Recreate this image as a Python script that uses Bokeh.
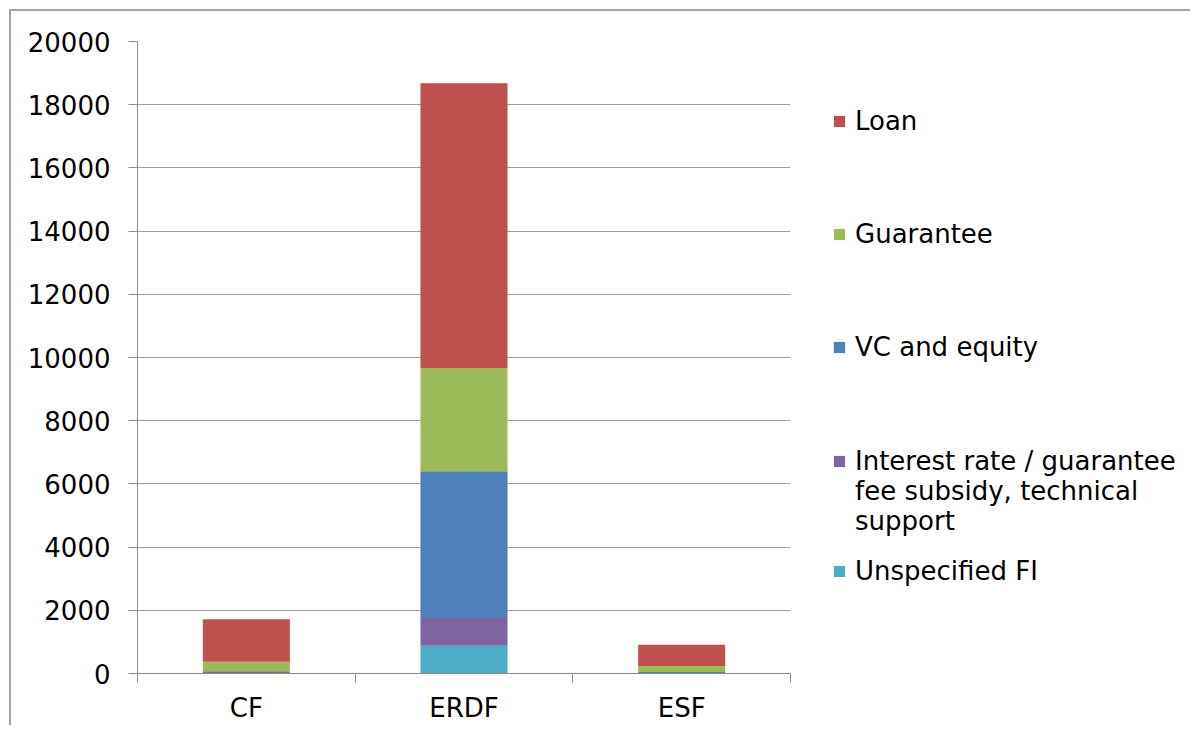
from bokeh.plotting import figure
from bokeh.layouts import row
from bokeh.models import (Range1d, FixedTicker, Legend, LegendItem)
from bokeh.embed import file_html
from bokeh.resources import INLINE

categories = ["CF", "ERDF", "ESF"]
series_names = ["Unspecified FI",
                "Interest rate / guarantee\nfee subsidy, technical\nsupport",
                "VC and equity", "Guarantee", "Loan"]
unspecified = [0, 880, 0]
interest = [70, 880, 0]
vc_equity = [0, 4640, 50]
guarantee = [300, 3260, 190]
loan = [1350, 9020, 670]
y_ticks = list(range(0, 20001, 2000))

colors = ["#4BACC6", "#8064A2", "#4F81BD", "#9BBB59", "#C0504D"]
keys = ["unspecified", "interest", "vc", "guarantee", "loan"]
FONT = "DejaVu Sans"

xpos = [i + 0.5 for i in range(len(categories))]
data = dict(x=xpos, unspecified=unspecified, interest=interest,
            vc=vc_equity, guarantee=guarantee, loan=loan)

p = figure(frame_width=653, frame_height=632, output_backend="svg", toolbar_location=None,
           x_range=Range1d(0, len(categories)), y_range=Range1d(0, 20000),
           min_border_left=126, min_border_top=30, min_border_right=10,
           min_border_bottom=48)
p.outline_line_color = None

rs = p.vbar_stack(keys, x="x", width=0.4, color=colors, source=data, line_color=None)

# x axis
xa = p.xaxis[0]
xa.ticker = FixedTicker(ticks=xpos, minor_ticks=list(range(len(categories) + 1)))
xa.major_label_overrides = {x: c for x, c in zip(xpos, categories)}
xa.major_tick_out = 0
xa.major_tick_in = 0
xa.minor_tick_out = 9
xa.minor_tick_in = 0
xa.minor_tick_line_color = "#8c8c8c"
xa.axis_line_color = "#8c8c8c"
xa.major_label_text_font = FONT
xa.major_label_text_font_size = "26px"
xa.major_label_text_color = "black"
xa.major_label_standoff = 10

ya = p.yaxis[0]
ya.ticker = FixedTicker(ticks=y_ticks, minor_ticks=[])
ya.major_tick_out = 9
ya.major_tick_in = 0
ya.major_tick_line_color = "#8c8c8c"
ya.axis_line_color = "#8c8c8c"
ya.major_label_text_font = FONT
ya.major_label_text_font_size = "26px"
ya.major_label_text_color = "black"
ya.major_label_standoff = 18

p.xgrid.visible = False
p.ygrid.ticker = FixedTicker(ticks=y_ticks)
p.ygrid.grid_line_color = "#a0a0a0"

# legend panel (separate figure to the right)
q = figure(width=390, height=662, output_backend="svg", toolbar_location=None,
           x_axis_location=None, y_axis_location=None,
           min_border_left=0, min_border_right=0, min_border_top=0, min_border_bottom=0)
q.outline_line_color = None
q.xgrid.visible = False
q.ygrid.visible = False
swatches = q.vbar_stack(keys, x="x", width=0.4, color=colors, source=data, line_color=None)
for r in swatches:
    r.visible = False

labels = list(series_names)
labels[1] = "\n\n" + labels[1]  # keep swatch level with the first text line
legend_y = {4: 485, 3: 372, 2: 259, 1: 85, 0: 35}
for i in [4, 3, 2, 1, 0]:
    lg = Legend(items=[LegendItem(label=labels[i], renderers=[swatches[i]])],
                location=(32, legend_y[i]), padding=0, margin=0, spacing=0,
                glyph_width=14, glyph_height=14, label_standoff=9,
                label_text_font=FONT, label_text_font_size="26px",
                label_text_line_height=1.28,
                label_text_color="black", border_line_color=None,
                background_fill_alpha=0)
    q.add_layout(lg, "center")

layout = row(p, q)
layout.styles = {"border-left": "2px solid #a6a6a6", "border-top": "2px solid #a6a6a6",
                 "margin-left": "9px", "margin-top": "9px"}

open("out.html", "w").write(file_html(layout, INLINE))
